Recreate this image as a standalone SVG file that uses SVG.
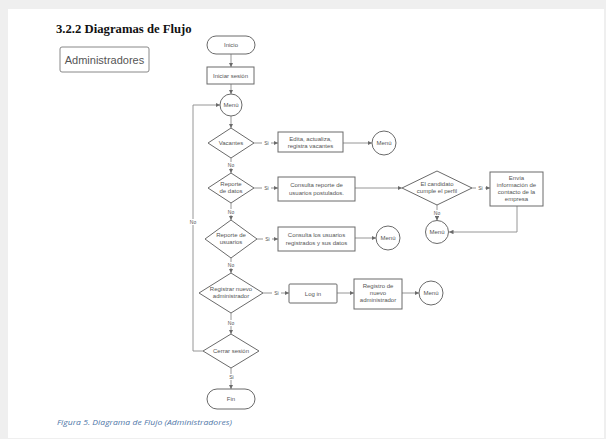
<svg xmlns="http://www.w3.org/2000/svg" width="606" height="439" viewBox="0 0 606 439">
<style>
.n{fill:#fff;stroke:#6a6a6a;stroke-width:1}
.t{font-family:"Liberation Sans",Arial,sans-serif;font-size:6px;fill:#555;text-anchor:middle}
.l{font-family:"Liberation Sans",Arial,sans-serif;font-size:5px;fill:#555;text-anchor:middle}
.c{fill:none;stroke:#8a8a8a;stroke-width:0.9}
</style>
<defs>
<marker id="a" viewBox="0 0 6 6" refX="6" refY="3" markerWidth="4.5" markerHeight="4.5" orient="auto" markerUnits="userSpaceOnUse">
<path d="M0,0 L6,3 L0,6 z" fill="#6a6a6a"/>
</marker>
</defs>
<rect x="0" y="0" width="606" height="439" fill="#efefef"/>
<rect x="8" y="9" width="596" height="429" fill="#fff"/>
<text x="56" y="33" font-family="'Liberation Serif','Times New Roman',serif" font-weight="bold" font-size="12.7" fill="#111">3.2.2 Diagramas de Flujo</text>
<g id="admin">
<rect x="60" y="47" width="89" height="25" rx="2" fill="#fff" stroke="#888" stroke-width="1"/>
<text x="104.5" y="63.5" font-family="'Liberation Sans',Arial,sans-serif" font-size="11" fill="#555" text-anchor="middle">Administradores</text>
</g>
<g id="connectors">
<path class="c" d="M231,54 V67" marker-end="url(#a)"/>
<path class="c" d="M231,84 V94" marker-end="url(#a)"/>
<path class="c" d="M231,116 V128" marker-end="url(#a)"/>
<path class="c" d="M254,143 H278" marker-end="url(#a)"/>
<path class="c" d="M343,143 H372" marker-end="url(#a)"/>
<path class="c" d="M231,158 V173" marker-end="url(#a)"/>
<path class="c" d="M254,188 H278" marker-end="url(#a)"/>
<path class="c" d="M355,188 H402" marker-end="url(#a)"/>
<path class="c" d="M472,188 H490" marker-end="url(#a)"/>
<path class="c" d="M437,205 V220.5" marker-end="url(#a)"/>
<path class="c" d="M517,206 V232 H449" marker-end="url(#a)"/>
<path class="c" d="M231,203 V220" marker-end="url(#a)"/>
<path class="c" d="M257,239 H278" marker-end="url(#a)"/>
<path class="c" d="M355,238 H376" marker-end="url(#a)"/>
<path class="c" d="M231,258 V273" marker-end="url(#a)"/>
<path class="c" d="M263,293 H289" marker-end="url(#a)"/>
<path class="c" d="M337,293 H354" marker-end="url(#a)"/>
<path class="c" d="M402,293 H419" marker-end="url(#a)"/>
<path class="c" d="M231,313 V334" marker-end="url(#a)"/>
<path class="c" d="M203,351 H193 V105 H220" marker-end="url(#a)"/>
<path class="c" d="M231,368 V389" marker-end="url(#a)"/>
<g>
<rect x="262" y="140" width="9" height="6" fill="#fff"/><text class="l" x="266.5" y="144.8">Si</text>
<rect x="226" y="162" width="10" height="6" fill="#fff"/><text class="l" x="231" y="166.8">No</text>
<rect x="262" y="185" width="9" height="6" fill="#fff"/><text class="l" x="266.5" y="189.8">Si</text>
<rect x="476" y="185" width="9" height="6" fill="#fff"/><text class="l" x="480.5" y="189.8">Si</text>
<rect x="432" y="210" width="10" height="6" fill="#fff"/><text class="l" x="437" y="214.8">No</text>
<rect x="226" y="209" width="10" height="6" fill="#fff"/><text class="l" x="231" y="213.8">No</text>
<rect x="263" y="236" width="9" height="6" fill="#fff"/><text class="l" x="267.5" y="240.8">Si</text>
<rect x="226" y="262" width="10" height="6" fill="#fff"/><text class="l" x="231" y="266.8">No</text>
<rect x="272" y="290" width="9" height="6" fill="#fff"/><text class="l" x="276.5" y="294.8">Si</text>
<rect x="226" y="320" width="10" height="6" fill="#fff"/><text class="l" x="231" y="324.8">No</text>
<rect x="188" y="219" width="10" height="6" fill="#fff"/><text class="l" x="193" y="223.8">No</text>
<rect x="227" y="374" width="9" height="6" fill="#fff"/><text class="l" x="231.5" y="378.8">Si</text>
</g>
</g>
<g id="inicio"><rect class="n" x="207" y="36" width="48" height="18" rx="9"/><text class="t" x="231" y="47">Inicio</text></g>
<g id="iniciar"><rect class="n" x="207" y="67" width="47" height="17"/><text class="t" x="230.5" y="77.5">Iniciar sesión</text></g>
<g id="menu1"><circle class="n" cx="231" cy="105" r="11"/><text class="t" x="231" y="107">Menú</text></g>
<g id="vacantes"><polygon class="n" points="231,128 254,143 231,158 208,143"/><text class="t" x="231" y="145">Vacantes</text></g>
<g id="edita"><rect class="n" x="278" y="132" width="65" height="20"/><text class="t" x="310.5" y="140.5">Edita, actualiza,</text><text class="t" x="310.5" y="148">registra vacantes</text></g>
<g id="menu2"><circle class="n" cx="384" cy="143" r="12"/><text class="t" x="384" y="145">Menú</text></g>
<g id="reporteDatos"><polygon class="n" points="231,173 254,188 231,203 208,188"/><text class="t" x="231" y="186">Reporte</text><text class="t" x="231" y="193">de datos</text></g>
<g id="consultaReporte"><rect class="n" x="278" y="177" width="77" height="24"/><text class="t" x="316.5" y="187">Consulta reporte de</text><text class="t" x="316.5" y="194.5">usuarios postulados.</text></g>
<g id="candidato"><polygon class="n" points="437,171 472,188 437,205 402,188"/><text class="t" x="437" y="186">El candidato</text><text class="t" x="437" y="193">cumple el perfil</text></g>
<g id="envia"><rect class="n" x="490" y="172" width="53" height="34"/><text class="t" x="516.5" y="179.5">Envía</text><text class="t" x="516.5" y="186.5">información de</text><text class="t" x="516.5" y="193.5">contacto de la</text><text class="t" x="516.5" y="200.5">empresa</text></g>
<g id="menu3"><circle class="n" cx="437" cy="232" r="11.5"/><text class="t" x="437" y="234">Menú</text></g>
<g id="reporteUsuarios"><polygon class="n" points="231,220 257,239 231,258 205,239"/><text class="t" x="231" y="237">Reporte de</text><text class="t" x="231" y="244">usuarios</text></g>
<g id="consultaUsuarios"><rect class="n" x="278" y="227" width="77" height="24"/><text class="t" x="316.5" y="237">Consulta los usuarios</text><text class="t" x="316.5" y="244.5">registrados y sus datos</text></g>
<g id="menu4"><circle class="n" cx="388" cy="238" r="12"/><text class="t" x="388" y="240">Menú</text></g>
<g id="registrar"><polygon class="n" points="231,273 263,293 231,313 199,293"/><text class="t" x="231" y="291">Registrar nuevo</text><text class="t" x="231" y="298">administrador</text></g>
<g id="login"><rect class="n" x="289" y="284" width="48" height="19" rx="1"/><text class="t" x="313" y="295.5">Log in</text></g>
<g id="registro"><rect class="n" x="354" y="279" width="48" height="30"/><text class="t" x="378" y="287.5">Registro de</text><text class="t" x="378" y="294.5">nuevo</text><text class="t" x="378" y="301.5">administrador</text></g>
<g id="menu5"><circle class="n" cx="431" cy="293" r="12"/><text class="t" x="431" y="295">Menú</text></g>
<g id="cerrar"><polygon class="n" points="231,334 259,351 231,368 203,351"/><text class="t" x="231" y="353">Cerrar sesión</text></g>
<g id="fin"><rect class="n" x="207" y="389" width="48" height="20" rx="10"/><text class="t" x="231" y="401">Fin</text></g>
<text x="57" y="424.5" font-family="'Open Sans','Noto Sans',sans-serif" font-style="italic" font-size="7.5" fill="#4f77a8" textLength="175" lengthAdjust="spacingAndGlyphs">Figura 5. Diagrama de Flujo (Administradores)</text>
</svg>
